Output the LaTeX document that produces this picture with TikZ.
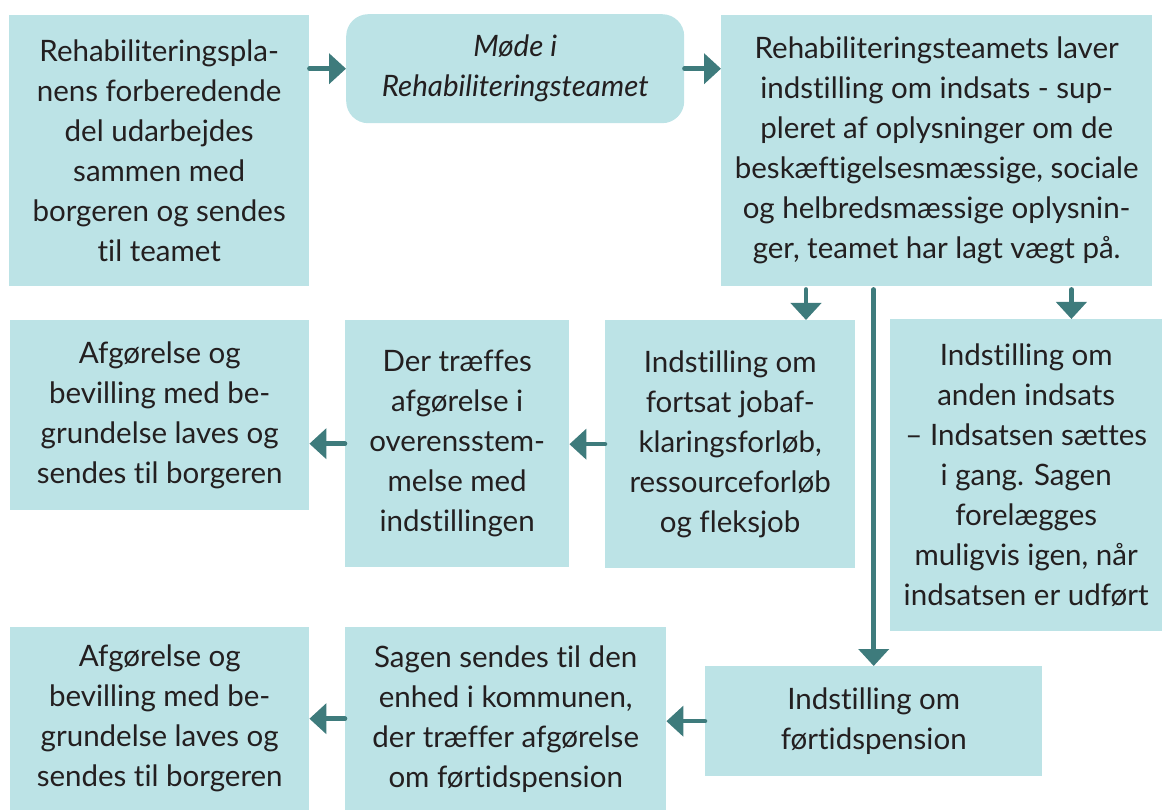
\documentclass[tikz,border=0pt]{standalone}
\usepackage{fontspec}
\setmainfont{Lato}[Ligatures=NoCommon]
\usetikzlibrary{arrows.meta}
\definecolor{boksfarve}{HTML}{BCE3E6}
\definecolor{pilfarve}{HTML}{3E7B7C}
\definecolor{tekstfarve}{HTML}{231F20}
\tikzset{
	boks/.style={fill=boksfarve,text=tekstfarve,inner sep=0pt,align=center,anchor=north west,
		font=\fontsize{29.5}{40}\selectfont},
	pil/.style={draw=pilfarve,line width=4.5pt,line cap=round,
		-{Triangle[length=17pt,width=30pt]}}
}
\begin{document}
\begin{tikzpicture}[x=1pt,y=-1pt]
	\useasboundingbox (0,0) rectangle (1162,810);
	%Øverste række
	\node[boks,minimum width=300,minimum height=271] (plan) at (9,15)
		{Rehabiliteringspla-\\nens forberedende\\del udarbejdes\\sammen med\\borgeren og sendes\\til teamet};
	\node[boks,minimum width=338,minimum height=109,rounded corners=22pt,font=\fontsize{29.5}{40}\selectfont\itshape] (mode) at (346,14)
		{Møde i\\Rehabiliteringsteamet};
	\node[boks,minimum width=431,minimum height=271] (team) at (721,15)
		{Rehabiliteringsteamets laver\\indstilling om indsats - sup-\\pleret af oplysninger om de\\beskæftigelsesmæssige, sociale\\og helbredsmæssige oplysnin-\\ger, teamet har lagt vægt på.};
	%Midterste række
	\node[boks,minimum width=299,minimum height=190] (afg1) at (10,320)
		{Afgørelse og\\bevilling med be-\\grundelse laves og\\sendes til borgeren};
	\node[boks,minimum width=224,minimum height=247] (traef) at (345,320)
		{Der træffes\\afgørelse i\\overensstem-\\melse med\\indstillingen};
	\node[boks,minimum width=250,minimum height=248] (job) at (605,320)
		{Indstilling om\\fortsat jobaf-\\klaringsforløb,\\ressourceforløb\\og fleksjob};
	\node[boks,minimum width=272,minimum height=312] (anden) at (890,319)
		{Indstilling om\\anden indsats\\– Indsatsen sættes\\i gang. Sagen\\forelægges\\muligvis igen, når\\indsatsen er udført};
	%Nederste række
	\node[boks,minimum width=299,minimum height=183] (afg2) at (10,627)
		{Afgørelse og\\bevilling med be-\\grundelse laves og\\sendes til borgeren};
	\node[boks,minimum width=321,minimum height=183] (enhed) at (345,627)
		{Sagen sendes til den\\enhed i kommunen,\\der træffer afgørelse\\om førtidspension};
	\node[boks,minimum width=337,minimum height=110] (pension) at (705,666)
		{Indstilling om\\førtidspension};
	%Pile
	\coordinate (ned1) at ([xshift=85]team.south west);
	\coordinate (ned2) at ([xshift=-81]team.south east);
	\draw[pil] (plan.east |- mode.west) -- (mode.west);
	\draw[pil] (mode.east) -- (team.west |- mode.east);
	\draw[pil] ([yshift=-3]ned1) -- (ned1 |- job.north);
	\draw[pil] ([yshift=-3]ned2) -- (ned2 |- anden.north);
	\draw[pil] ([yshift=-3]team.south -| pension.north) -- (pension.north);
	\draw[pil] (traef.west) -- (traef.west -| afg1.east);
	\draw[pil] (job.west) -- (job.west -| traef.east);
	\draw[pil] (enhed.west) -- (enhed.west -| afg2.east);
	\draw[pil] (pension.west) -- (pension.west -| enhed.east);
\end{tikzpicture}
\end{document}
